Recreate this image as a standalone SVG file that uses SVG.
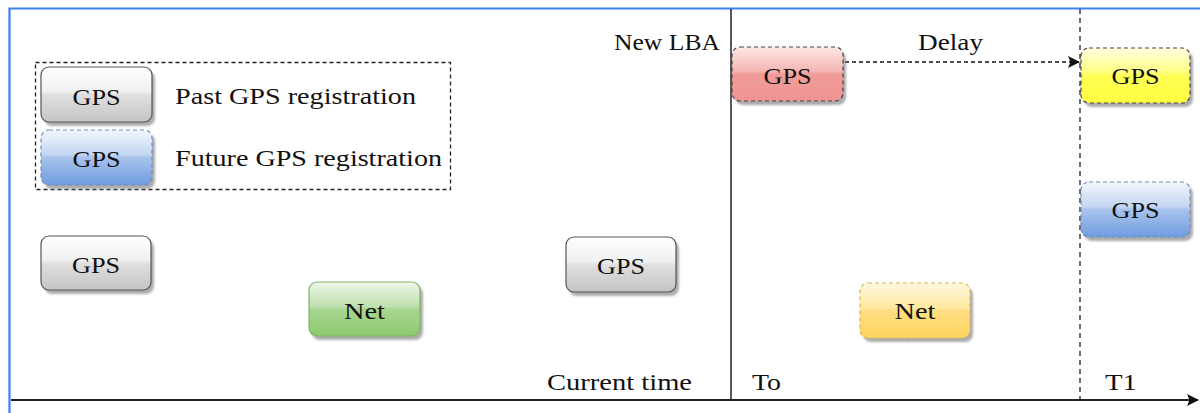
<svg xmlns="http://www.w3.org/2000/svg" width="1200" height="413" viewBox="0 0 1200 413">
<style>
text{font-family:"Liberation Serif","Times New Roman",serif;font-size:23px;fill:#111}
.c{text-anchor:middle}
.sh{fill:#8a8a8a;opacity:.7;filter:url(#blur)}
.solid{stroke:#555;stroke-width:1.2}
</style>
<defs>
<filter id="blur" x="-10%" y="-10%" width="120%" height="130%"><feGaussianBlur stdDeviation="1.2"/></filter>
<linearGradient id="gGray" x1="0" y1="0" x2="0" y2="1"><stop offset="0" stop-color="#ffffff"/><stop offset="0.45" stop-color="#f0f0f0"/><stop offset="0.5" stop-color="#e0e0e0"/><stop offset="1" stop-color="#c4c4c4"/></linearGradient>
<linearGradient id="gBlue" x1="0" y1="0" x2="0" y2="1"><stop offset="0" stop-color="#f3f7fd"/><stop offset="0.45" stop-color="#c2d5f2"/><stop offset="0.5" stop-color="#a9c3ec"/><stop offset="1" stop-color="#6f9ce0"/></linearGradient>
<linearGradient id="gRed" x1="0" y1="0" x2="0" y2="1"><stop offset="0" stop-color="#fde8e7"/><stop offset="0.45" stop-color="#f5b5b3"/><stop offset="0.5" stop-color="#f19c99"/><stop offset="1" stop-color="#ef9592"/></linearGradient>
<linearGradient id="gYel" x1="0" y1="0" x2="0" y2="1"><stop offset="0" stop-color="#ffffe0"/><stop offset="0.45" stop-color="#ffff80"/><stop offset="0.5" stop-color="#ffff55"/><stop offset="1" stop-color="#ffff40"/></linearGradient>
<linearGradient id="gOr" x1="0" y1="0" x2="0" y2="1"><stop offset="0" stop-color="#fff8e0"/><stop offset="0.45" stop-color="#ffe8a0"/><stop offset="0.5" stop-color="#ffdd80"/><stop offset="1" stop-color="#ffd560"/></linearGradient>
<linearGradient id="gGreen" x1="0" y1="0" x2="0" y2="1"><stop offset="0" stop-color="#eef7ea"/><stop offset="0.45" stop-color="#bfe0b0"/><stop offset="0.5" stop-color="#a9d692"/><stop offset="1" stop-color="#8cc96e"/></linearGradient>
<marker id="arr" markerWidth="12" markerHeight="12" refX="11" refY="6" orient="auto" markerUnits="userSpaceOnUse"><path d="M0,0 L12,6 L0,12 L2.5,6 Z" fill="#111"/></marker>
</defs>
<rect width="1200" height="413" fill="#fff"/>
<g id="frame" fill="none" stroke="#3d7ff0" stroke-width="2.2">
<path d="M9.5,413 V8.5 H1200"/>
</g>
<g id="connectors" fill="none">
<line x1="11" y1="400" x2="1198" y2="400" stroke="#222" stroke-width="2" marker-end="url(#arr)"/>
<line x1="731" y1="9" x2="731" y2="400" stroke="#222" stroke-width="1.5"/>
<line x1="1080" y1="9" x2="1080" y2="400" stroke="#222" stroke-width="1.3" stroke-dasharray="5 4"/>
<line x1="845" y1="62" x2="1079" y2="62" stroke="#111" stroke-width="1.5" stroke-dasharray="4 3" marker-end="url(#arr)"/>
</g>
<g id="legend">
<rect x="35.5" y="62.5" width="415" height="127" fill="none" stroke="#222" stroke-width="1.3" stroke-dasharray="4 3"/>
<text x="175" y="104" textLength="241" lengthAdjust="spacingAndGlyphs">Past GPS registration</text>
<text x="175" y="166" textLength="267" lengthAdjust="spacingAndGlyphs">Future GPS registration</text>
</g>
<g id="legend-gps-past">
<rect class="sh" x="44" y="71" width="111" height="55" rx="8"/>
<rect x="41" y="67" width="111" height="55" rx="8" fill="url(#gGray)" class="solid"/>
<text class="c" x="96.5" y="105" textLength="48" lengthAdjust="spacingAndGlyphs">GPS</text>
</g>
<g id="legend-gps-future">
<rect class="sh" x="44" y="134" width="111" height="55" rx="8"/>
<rect x="41" y="130" width="111" height="55" rx="8" fill="url(#gBlue)" stroke="#6c8ebf" stroke-width="1.2" stroke-dasharray="4 3"/>
<text class="c" x="96.5" y="167" textLength="48" lengthAdjust="spacingAndGlyphs">GPS</text>
</g>
<g id="gps1">
<rect class="sh" x="44" y="240" width="110" height="54" rx="8"/>
<rect x="41" y="236" width="110" height="54" rx="8" fill="url(#gGray)" class="solid"/>
<text class="c" x="96" y="273" textLength="48" lengthAdjust="spacingAndGlyphs">GPS</text>
</g>
<g id="net1">
<rect class="sh" x="312" y="286" width="111" height="54" rx="8"/>
<rect x="309" y="282" width="111" height="54" rx="8" fill="url(#gGreen)" stroke="#82b366" stroke-width="1.2"/>
<text class="c" x="364.5" y="319" textLength="41" lengthAdjust="spacingAndGlyphs">Net</text>
</g>
<g id="gps2">
<rect class="sh" x="569" y="241" width="110" height="55" rx="8"/>
<rect x="566" y="237" width="110" height="55" rx="8" fill="url(#gGray)" class="solid"/>
<text class="c" x="621" y="274" textLength="48" lengthAdjust="spacingAndGlyphs">GPS</text>
</g>
<g id="gps-new">
<rect class="sh" x="735" y="51" width="111" height="54" rx="8"/>
<rect x="732" y="47" width="111" height="54" rx="8" fill="url(#gRed)" stroke="#444" stroke-width="1.2" stroke-dasharray="4 3"/>
<text class="c" x="787.5" y="84" textLength="48" lengthAdjust="spacingAndGlyphs">GPS</text>
</g>
<g id="gps-yellow">
<rect class="sh" x="1084" y="52" width="109" height="55" rx="8"/>
<rect x="1081" y="48" width="109" height="55" rx="8" fill="url(#gYel)" stroke="#444" stroke-width="1.2" stroke-dasharray="4 3"/>
<text class="c" x="1135.5" y="84" textLength="48" lengthAdjust="spacingAndGlyphs">GPS</text>
</g>
<g id="gps-blue">
<rect class="sh" x="1084" y="186" width="109" height="55" rx="8"/>
<rect x="1081" y="182" width="109" height="55" rx="8" fill="url(#gBlue)" stroke="#6c8ebf" stroke-width="1.2" stroke-dasharray="4 3"/>
<text class="c" x="1135.5" y="218" textLength="48" lengthAdjust="spacingAndGlyphs">GPS</text>
</g>
<g id="net2">
<rect class="sh" x="863" y="287" width="110" height="55" rx="8"/>
<rect x="860" y="283" width="110" height="55" rx="8" fill="url(#gOr)" stroke="#d6b656" stroke-width="1.2" stroke-dasharray="4 3"/>
<text class="c" x="915" y="319" textLength="41" lengthAdjust="spacingAndGlyphs">Net</text>
</g>
<g id="labels">
<text x="614" y="50" textLength="106" lengthAdjust="spacingAndGlyphs">New LBA</text>
<text x="918" y="50" textLength="65" lengthAdjust="spacingAndGlyphs">Delay</text>
<text x="547" y="390" textLength="145" lengthAdjust="spacingAndGlyphs">Current time</text>
<text x="752" y="390" textLength="29" lengthAdjust="spacingAndGlyphs">To</text>
<text x="1105" y="390" textLength="32" lengthAdjust="spacingAndGlyphs">T1</text>
</g>
</svg>
